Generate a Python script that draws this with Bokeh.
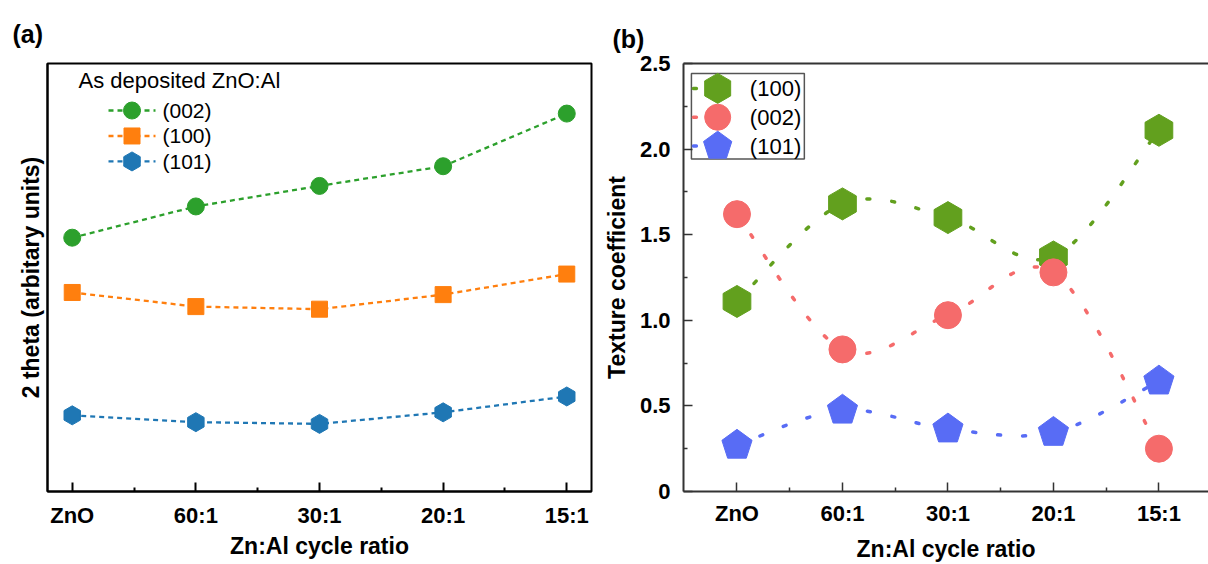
import numpy as np
from bokeh.plotting import figure
from bokeh.layouts import row
from bokeh.models import Range1d, FixedTicker, LinearAxis, NumeralTickFormatter, ColumnDataSource
from bokeh.core.properties import value
from bokeh.embed import file_html
from bokeh.resources import INLINE

# ---------------- data ----------------
categories = ["ZnO", "60:1", "30:1", "20:1", "15:1"]
xpos = [0, 1, 2, 3, 4]

# panel (a): 2 theta, arbitrary units
a_labels = ["(002)", "(100)", "(101)"]
a_002 = [59.3, 66.6, 71.4, 76.0, 88.3]
a_100 = [46.5, 43.2, 42.6, 46.0, 50.8]
a_101 = [17.8, 16.2, 15.8, 18.5, 22.2]

# panel (b): texture coefficient
b_labels = ["(100)", "(002)", "(101)"]
b_100 = [1.11, 1.68, 1.60, 1.37, 2.11]
b_002 = [1.62, 0.83, 1.03, 1.28, 0.25]
b_101 = [0.27, 0.475, 0.365, 0.345, 0.645]
b_yticks = [0, 0.5, 1.0, 1.5, 2.0, 2.5]

FONT = "Liberation Sans"


def style_title(p, offset, standoff):
    p.title.text_font = FONT
    p.title.text_font_size = "25px"
    p.title.text_font_style = "bold"
    p.title.text_color = "black"
    p.title.align = "left"
    p.title.vertical_align = "top"
    p.title.offset = offset
    p.title.standoff = standoff


# ---------------- panel (a) ----------------
W1, H1 = 600, 564
L1, R1, T1, B1 = 47, 9, 60, 67
FW1, FH1 = W1 - L1 - R1, H1 - T1 - B1
xr1 = Range1d(-0.2, 4.2)
yr1 = Range1d(0, 100)

p1 = figure(width=W1, height=H1, x_range=xr1, y_range=yr1, output_backend="svg",
            toolbar_location=None, min_border_left=L1, min_border_right=R1,
            min_border_top=T1, min_border_bottom=B1, title="(a)")
style_title(p1, -35, 27)
p1.xgrid.visible = False
p1.ygrid.visible = False
p1.outline_line_color = "black"
p1.outline_line_width = 2
p1.outline_line_alpha = 1

xa = p1.xaxis[0]
xa.ticker = FixedTicker(ticks=xpos, minor_ticks=[0.5, 1.5, 2.5, 3.5])
xa.major_label_overrides = {i: c for i, c in zip(xpos, categories)}
xa.axis_label = "Zn:Al cycle ratio"
xa.major_tick_in = 9
xa.major_tick_out = 0
xa.minor_tick_in = 4
xa.minor_tick_out = 0
xa.axis_line_width = 2
xa.major_tick_line_width = 2
xa.minor_tick_line_width = 2
xa.axis_line_color = "black"
xa.major_label_text_font = FONT
xa.major_label_text_font_style = "bold"
xa.major_label_text_font_size = "22px"
xa.major_label_text_color = "black"
xa.major_label_standoff = 11
xa.axis_label_text_font = FONT
xa.axis_label_text_font_style = "bold"
xa.axis_label_text_font_size = "23px"
xa.axis_label_text_color = "black"
xa.axis_label_standoff = 2

ya = p1.yaxis[0]
ya.ticker = FixedTicker(ticks=[], minor_ticks=[])
ya.axis_label = "2 theta (arbitary units)"
ya.axis_line_width = 2
ya.axis_line_color = "black"
ya.axis_label_text_font = FONT
ya.axis_label_text_font_style = "bold"
ya.axis_label_text_font_size = "23px"
ya.axis_label_text_color = "black"
ya.axis_label_standoff = 4

a_series = [
    (a_002, "#2ca02c", "circle", 17, 0.0),
    (a_100, "#ff7f0e", "square", 16, 0.0),
    (a_101, "#1f77b4", "hex", 19, np.pi / 2),
]
for ys, col, mk, sz, ang in a_series:
    p1.line(xpos, ys, line_color=col, line_width=2.3, line_dash="5 4")
    p1.scatter(xpos, ys, marker=mk, size=sz, angle=ang, fill_color=col, line_color=col)


def fx1(px):
    return xr1.start + px * (xr1.end - xr1.start) / FW1


def fy1(py):
    return yr1.end - py * (yr1.end - yr1.start) / FH1


p1.text(x=[fx1(31)], y=[fy1(17)], text=["As deposited ZnO:Al"], text_font=value(FONT),
        text_font_size="22px", text_baseline="middle", text_align="left", text_color="black")
for i, ((ys, col, mk, sz, ang), lab) in enumerate(zip(a_series, a_labels)):
    ry = fy1(48 + 26 * i)
    p1.line([fx1(61), fx1(108)], [ry, ry], line_color=col, line_width=2.3, line_dash="5 4")
    p1.scatter([fx1(84.5)], [ry], marker=mk, size=sz, angle=ang, fill_color=col, line_color=col)
    p1.text(x=[fx1(115)], y=[ry], text=[lab], text_font=value(FONT), text_font_size="21px",
            text_baseline="middle", text_align="left", text_color="black")

# ---------------- panel (b) ----------------
W2, H2 = 608, 564
L2, R2, T2, B2 = 78, 0, 63, 71
FW2, FH2 = W2 - L2 - R2, H2 - T2 - B2
xr2 = Range1d(-0.507, 4.47)
yr2 = Range1d(0, 2.5)

p2 = figure(width=W2, height=H2, x_range=xr2, y_range=yr2, output_backend="svg",
            toolbar_location=None, min_border_left=L2, min_border_right=R2,
            min_border_top=T2, min_border_bottom=B2, title="(b)")
style_title(p2, -71, 18)
p2.xgrid.visible = False
p2.ygrid.visible = False
p2.outline_line_color = None

AXC = "#333333"
xb = p2.xaxis[0]
xb.ticker = FixedTicker(ticks=xpos, minor_ticks=[0.5, 1.5, 2.5, 3.5])
xb.major_label_overrides = {i: c for i, c in zip(xpos, categories)}
xb.axis_label = "Zn:Al cycle ratio"
yb = p2.yaxis[0]
yb.ticker = FixedTicker(ticks=b_yticks, minor_ticks=[0.25, 0.75, 1.25, 1.75, 2.25])
yb.formatter = NumeralTickFormatter(format="0.0")
yb.major_label_overrides = {0: "0"}
yb.axis_label = "Texture coefficient"
for ax in [xb, yb]:
    ax.major_tick_in = 9
    ax.major_tick_out = 0
    ax.minor_tick_in = 4
    ax.minor_tick_out = 0
    ax.axis_line_width = 2
    ax.major_tick_line_width = 1.5
    ax.minor_tick_line_width = 1.5
    ax.axis_line_color = AXC
    ax.major_tick_line_color = AXC
    ax.minor_tick_line_color = AXC
    ax.major_label_text_font = FONT
    ax.major_label_text_font_style = "bold"
    ax.major_label_text_font_size = "22px"
    ax.major_label_text_color = "black"
    ax.axis_label_text_font = FONT
    ax.axis_label_text_font_style = "bold"
    ax.axis_label_text_font_size = "23px"
    ax.axis_label_text_color = "black"
xb.major_label_standoff = 9
xb.axis_label_standoff = 7
yb.major_label_standoff = 13
yb.axis_label_standoff = 7

top_axis = LinearAxis(ticker=FixedTicker(ticks=[], minor_ticks=[]), axis_line_color=AXC,
                      axis_line_width=2, major_label_text_font_size="0px")
p2.add_layout(top_axis, "above")

G, RC, BC = "#62a01e", "#f56b6b", "#586cf5"


def fx2(px):
    return xr2.start + px * (xr2.end - xr2.start) / FW2


def fy2(py):
    return yr2.end - py * (yr2.end - yr2.start) / FH2


def catmull_bezier(xs, ys):
    P = np.column_stack([xs, ys]).astype(float)
    n = len(P)
    d = {k: [] for k in ["x0", "y0", "x1", "y1", "cx0", "cy0", "cx1", "cy1"]}
    for i in range(n - 1):
        pm, pa, pb, pp = P[max(i - 1, 0)], P[i], P[i + 1], P[min(i + 2, n - 1)]
        c0 = pa + (pb - pm) / 6.0
        c1 = pb - (pp - pa) / 6.0
        d["x0"].append(pa[0]); d["y0"].append(pa[1])
        d["x1"].append(pb[0]); d["y1"].append(pb[1])
        d["cx0"].append(c0[0]); d["cy0"].append(c0[1])
        d["cx1"].append(c1[0]); d["cy1"].append(c1[1])
    return ColumnDataSource(d)


def pentagon(xs, ys, r_px):
    ux = (xr2.end - xr2.start) / FW2
    uy = (yr2.end - yr2.start) / FH2
    th = np.pi / 2 + np.arange(5) * 2 * np.pi / 5
    px = [list(x + r_px * np.cos(th) * ux) for x in xs]
    py = [list(y + r_px * np.sin(th) * uy) for y in ys]
    return px, py


DOT = dict(line_width=3.5, line_dash="3 22", line_cap="round")

for ys, col in [(b_100, G), (b_002, RC), (b_101, BC)]:
    p2.bezier(x0="x0", y0="y0", x1="x1", y1="y1", cx0="cx0", cy0="cy0", cx1="cx1", cy1="cy1",
              source=catmull_bezier(xpos, ys), line_color=col, **DOT)

p2.scatter(xpos, b_100, marker="hex", size=32, angle=np.pi / 2, fill_color=G, line_color=G)
p2.scatter(xpos, b_002, marker="circle", size=27, fill_color=RC, line_color=RC)
pxs, pys = pentagon(xpos, b_101, 16)
p2.patches(pxs, pys, fill_color=BC, line_color=BC)

# legend (b)
p2.quad(left=[fx2(8)], right=[fx2(122)], top=[fy2(10)], bottom=[fy2(96)],
        fill_color="white", line_color="#555555", line_width=1.5)
for i, (lab, col) in enumerate(zip(b_labels, [G, RC, BC])):
    ry = fy2(25 + 29 * i)
    p2.line([fx2(10), fx2(59)], [ry, ry], line_color=col, **DOT)
    if i == 0:
        p2.scatter([fx2(34.5)], [ry], marker="hex", size=30, angle=np.pi / 2, fill_color=col, line_color=col)
    elif i == 1:
        p2.scatter([fx2(34.5)], [ry], marker="circle", size=26, fill_color=col, line_color=col)
    else:
        lx, ly = pentagon([fx2(34.5)], [ry], 15)
        p2.patches(lx, ly, fill_color=col, line_color=col)
    p2.text(x=[fx2(67)], y=[ry], text=[lab], text_font=value(FONT), text_font_size="22px",
            text_baseline="middle", text_align="left", text_color="black")

layout = row(p1, p2)
open("out.html", "w").write(file_html(layout, INLINE))
